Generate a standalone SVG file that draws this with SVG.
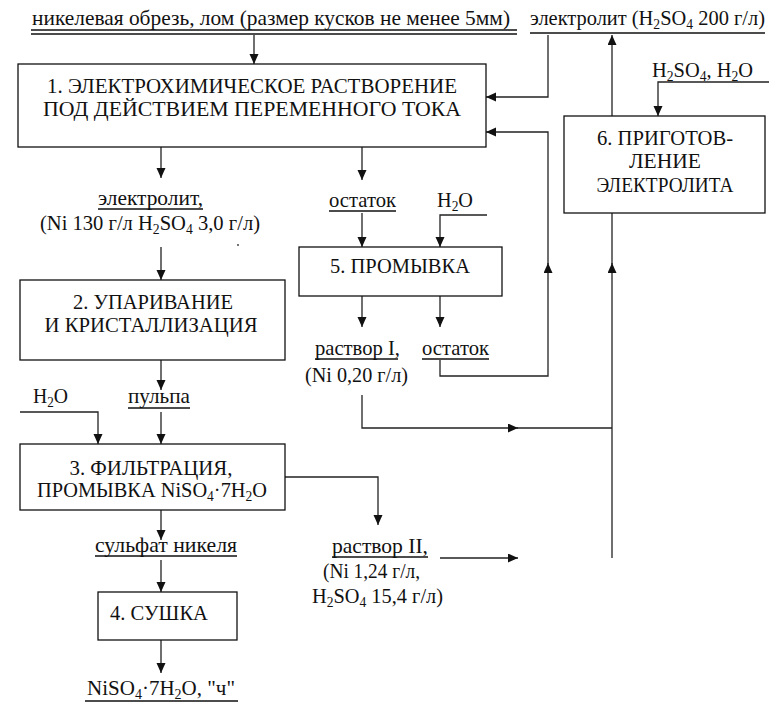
<svg xmlns="http://www.w3.org/2000/svg" width="769" height="708" viewBox="0 0 769 708">
<style>
.t{font-family:"Liberation Serif","Times New Roman","DejaVu Serif",serif;font-size:21px;fill:#111}
.m{text-anchor:middle}
.s{font-size:14px}
.box{fill:#fff;stroke:#111;stroke-width:1.3}
.ln{fill:none;stroke:#222;stroke-width:1.3}
.ul{stroke:#111;stroke-width:1.4}
.ar{marker-end:url(#ah)}
</style>
<defs>
<marker id="ah" markerUnits="userSpaceOnUse" markerWidth="11" markerHeight="10" refX="10" refY="4.5" orient="auto">
<path d="M0,0 L10,4.5 L0,9 z" fill="#111"/>
</marker>
</defs>
<rect width="769" height="708" fill="#fff"/>

<g id="connectors">
<path class="ln ar" d="M254,35 V64"/>
<path class="ln ar" d="M548,35 V97 H486"/>
<path class="ln ar" d="M440,360 V376 H548 V263"/>
<path class="ln ar" d="M548,264 V132 H486"/>
<path class="ln ar" d="M612,213 V35"/>
<path class="ln ar" d="M769,82 H658 V116"/>
<path class="ln ar" d="M161,147 V178"/>
<path class="ln ar" d="M362,147 V180"/>
<path class="ln ar" d="M161,247 V280"/>
<path class="ln ar" d="M161,360 V390"/>
<path class="ln ar" d="M161,412 V444"/>
<path class="ln ar" d="M20,412 H98 V444"/>
<path class="ln ar" d="M285,477 H378 V525"/>
<path class="ln ar" d="M161,510 V540"/>
<path class="ln ar" d="M161,560 V592"/>
<path class="ln ar" d="M161,640 V673"/>
<path class="ln ar" d="M362,213 V247"/>
<path class="ln ar" d="M487,215 H440 V247"/>
<path class="ln ar" d="M362,296 V327"/>
<path class="ln ar" d="M440,296 V327"/>
<path class="ln ar" d="M362,395 V428 H518"/>
<path class="ln" d="M517,428 H612"/>
<path class="ln ar" d="M440,558 H518"/>
<path class="ln ar" d="M612,558 V263"/>
<path class="ln" d="M612,264 V213"/>
</g>

<g id="n1">
<rect class="box" x="18" y="64" width="468" height="83"/>
<text class="t m" x="252" y="93" textLength="410" lengthAdjust="spacingAndGlyphs">1. ЭЛЕКТРОХИМИЧЕСКОЕ РАСТВОРЕНИЕ</text>
<text class="t m" x="252" y="116" textLength="418" lengthAdjust="spacingAndGlyphs">ПОД ДЕЙСТВИЕМ ПЕРЕМЕННОГО ТОКА</text>
</g>

<g id="n2">
<rect class="box" x="20" y="280" width="265" height="80"/>
<text class="t m" x="153" y="309" textLength="160" lengthAdjust="spacingAndGlyphs">2. УПАРИВАНИЕ</text>
<text class="t m" x="151" y="332" textLength="213" lengthAdjust="spacingAndGlyphs">И КРИСТАЛЛИЗАЦИЯ</text>
</g>

<g id="n3">
<rect class="box" x="20" y="444" width="265" height="66"/>
<text class="t m" x="151" y="475" textLength="163" lengthAdjust="spacingAndGlyphs">3. ФИЛЬТРАЦИЯ,</text>
<text class="t" x="37" y="497" textLength="230" lengthAdjust="spacingAndGlyphs">ПРОМЫВКА NiSO<tspan class="s" dy="4">4</tspan><tspan dy="-4">·7H</tspan><tspan class="s" dy="4">2</tspan><tspan dy="-4">O</tspan></text>
</g>

<g id="n4">
<rect class="box" x="98" y="592" width="139" height="48"/>
<text class="t" x="110" y="620" textLength="98" lengthAdjust="spacingAndGlyphs">4. СУШКА</text>
</g>

<g id="n5">
<rect class="box" x="299" y="247" width="203" height="49"/>
<text class="t m" x="400" y="273" textLength="140" lengthAdjust="spacingAndGlyphs">5. ПРОМЫВКА</text>
</g>

<g id="n6">
<rect class="box" x="564" y="116" width="201" height="97"/>
<text class="t m" x="665" y="145" textLength="136" lengthAdjust="spacingAndGlyphs">6. ПРИГОТОВ-</text>
<text class="t m" x="665" y="168" textLength="72" lengthAdjust="spacingAndGlyphs">ЛЕНИЕ</text>
<text class="t m" x="665" y="192" textLength="137" lengthAdjust="spacingAndGlyphs">ЭЛЕКТРОЛИТА</text>
</g>

<g id="labels">
<text class="t" x="32" y="25" textLength="478" lengthAdjust="spacingAndGlyphs">никелевая обрезь, лом (размер кусков не менее 5мм)</text>
<line class="ul" x1="31" y1="30" x2="517" y2="30"/>
<line class="ul" x1="31" y1="34" x2="517" y2="34"/>

<text class="t" x="530" y="25" textLength="235" lengthAdjust="spacingAndGlyphs">электролит (H<tspan class="s" dy="4">2</tspan><tspan dy="-4">SO</tspan><tspan class="s" dy="4">4</tspan><tspan dy="-4"> 200 г/л)</tspan></text>
<line class="ul" x1="530" y1="33" x2="765" y2="33"/>

<text class="t" x="652" y="77" textLength="101" lengthAdjust="spacingAndGlyphs">H<tspan class="s" dy="4">2</tspan><tspan dy="-4">SO</tspan><tspan class="s" dy="4">4</tspan><tspan dy="-4">, H</tspan><tspan class="s" dy="4">2</tspan><tspan dy="-4">O</tspan></text>

<text class="t" x="98" y="205" textLength="105" lengthAdjust="spacingAndGlyphs">электролит,</text>
<line class="ul" x1="98" y1="209" x2="203" y2="209"/>
<text class="t" x="40" y="230" textLength="220" lengthAdjust="spacingAndGlyphs">(Ni 130 г/л H<tspan class="s" dy="4">2</tspan><tspan dy="-4">SO</tspan><tspan class="s" dy="4">4</tspan><tspan dy="-4"> 3,0 г/л)</tspan></text>
<circle cx="238" cy="245" r="0.9" fill="#333"/>

<text class="t" x="329" y="207" textLength="67" lengthAdjust="spacingAndGlyphs">остаток</text>
<line class="ul" x1="329" y1="211" x2="396" y2="211"/>
<text class="t" x="437" y="207" textLength="36" lengthAdjust="spacingAndGlyphs">H<tspan class="s" dy="4">2</tspan><tspan dy="-4">O</tspan></text>

<text class="t" x="315" y="355" textLength="85" lengthAdjust="spacingAndGlyphs">раствор I,</text>
<line class="ul" x1="315" y1="359" x2="398" y2="359"/>
<text class="t" x="305" y="382" textLength="103" lengthAdjust="spacingAndGlyphs">(Ni 0,20 г/л)</text>
<text class="t" x="422" y="355" textLength="67" lengthAdjust="spacingAndGlyphs">остаток</text>
<line class="ul" x1="422" y1="359" x2="489" y2="359"/>

<text class="t" x="33" y="403" textLength="35" lengthAdjust="spacingAndGlyphs">H<tspan class="s" dy="4">2</tspan><tspan dy="-4">O</tspan></text>
<text class="t" x="128" y="403" textLength="62" lengthAdjust="spacingAndGlyphs">пульпа</text>
<line class="ul" x1="128" y1="408" x2="190" y2="408"/>

<text class="t" x="95" y="552" textLength="142" lengthAdjust="spacingAndGlyphs">сульфат никеля</text>
<line class="ul" x1="95" y1="556" x2="237" y2="556"/>

<text class="t" x="332" y="553" textLength="96" lengthAdjust="spacingAndGlyphs">раствор II,</text>
<line class="ul" x1="332" y1="557" x2="428" y2="557"/>
<text class="t" x="323" y="578" textLength="97" lengthAdjust="spacingAndGlyphs">(Ni 1,24 г/л,</text>
<text class="t" x="312" y="603" textLength="131" lengthAdjust="spacingAndGlyphs">H<tspan class="s" dy="4">2</tspan><tspan dy="-4">SO</tspan><tspan class="s" dy="4">4</tspan><tspan dy="-4"> 15,4 г/л)</tspan></text>

<text class="t" x="87" y="695" textLength="148" lengthAdjust="spacingAndGlyphs">NiSO<tspan class="s" dy="4">4</tspan><tspan dy="-4">·7H</tspan><tspan class="s" dy="4">2</tspan><tspan dy="-4">O, "ч"</tspan></text>
<line class="ul" x1="85" y1="701" x2="238" y2="701"/>
</g>
</svg>
